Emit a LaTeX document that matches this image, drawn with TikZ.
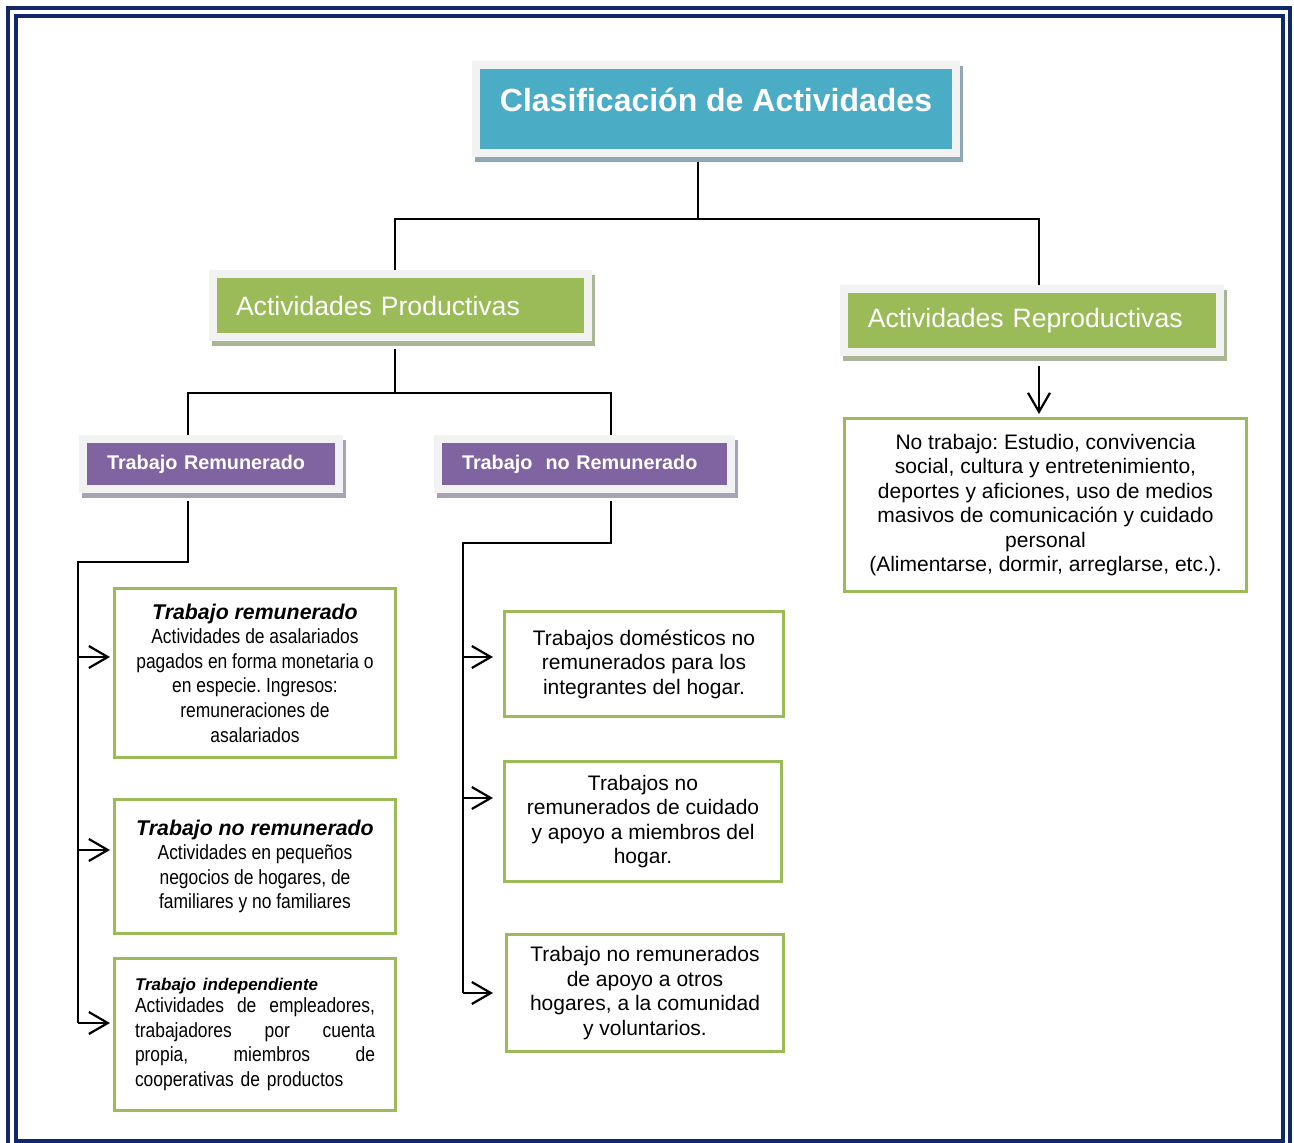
\documentclass[tikz,border=0pt]{standalone}
\usepackage{xcolor}
\usepackage{fontspec}
\setmainfont{Liberation Sans}
\newfontfamily\narrowfont[FakeStretch=0.85]{Liberation Sans}
\usetikzlibrary{arrows.meta,shadows}
\definecolor{navyline}{RGB}{16,40,106}
\definecolor{framegray}{HTML}{F2F2F2}
\definecolor{aquabox}{HTML}{4BACC6}
\definecolor{aquashade}{HTML}{8EA9B5}
\definecolor{greenbox}{HTML}{9BBB59}
\definecolor{greenshade}{HTML}{A9B796}
\definecolor{purplebox}{HTML}{8064A2}
\definecolor{purpleshade}{HTML}{A7A3B5}

\begin{document}
\frenchspacing
\begin{tikzpicture}[x=1pt,y=-1pt,
  framebox/.style={draw=framegray,line width=8pt,inner sep=0pt,text=white},
  boxshadow/.style={drop shadow={shadow xshift=3pt,shadow yshift=-4.5pt,opacity=1,fill=#1,draw=#1,line width=8pt}},
  greenhead/.style={framebox,boxshadow=greenshade,fill=greenbox,text width=328.5pt,inner xsep=23.5pt,
    minimum height=63pt,align=left,font=\fontsize{26.6}{32}\selectfont},
  purplehead/.style={framebox,boxshadow=purpleshade,fill=purplebox,inner xsep=24pt,
    minimum height=50pt,align=left,font=\fontsize{19.8}{24}\selectfont\bfseries},
  itembox/.style={draw=greenbox,line width=3pt,fill=white,inner sep=0pt,align=center,
    font=\fontsize{21}{24.5}\selectfont},
  narrowbox/.style={itembox,font=\narrowfont\fontsize{20.5}{24.6}\selectfont},
  conn/.style={line width=2pt},
  arr/.style={line width=2.2pt,-{Straight Barb[length=19pt,width=22pt]}}]
\useasboundingbox (0,0) rectangle (1294,1143);
\draw[navyline,line width=4pt] (8,8) rectangle (1289.5,1148);
\draw[navyline,line width=4pt] (15.5,16) rectangle (1282.5,1140.5);

\node[framebox,boxshadow=aquashade,fill=aquabox,minimum width=480pt,minimum height=88pt,
  text height=23pt,text depth=19pt,font=\fontsize{32}{38}\selectfont\bfseries]
  (title) at (716,109) {Clasificación de Actividades};
\node[greenhead] (prod) at (400.25,305.5) {Actividades Productivas};
\node[greenhead] (repr) at (1032,320.5) {Actividades Reproductivas};
\node[purplehead,text width=208pt] (trem) at (211,464) {Trabajo Remunerado};
\node[purplehead,text width=245pt] (tnrem) at (584.5,464) {Trabajo\ \ no Remunerado};

\node[narrowbox,minimum width=281pt,minimum height=169pt] (rem) at (255,673)
  {{\rmfamily\fontsize{21.3}{25}\selectfont\bfseries\itshape Trabajo remunerado}\\
  Actividades de asalariados\\ pagados en forma monetaria o\\
  en especie. Ingresos:\\ remuneraciones de\\ asalariados};
\node[narrowbox,minimum width=281pt,minimum height=134pt] (norem) at (255,866.5)
  {{\rmfamily\fontsize{21.3}{25}\selectfont\bfseries\itshape Trabajo no remunerado}\\
  Actividades en pequeños\\ negocios de hogares, de\\ familiares y no familiares};
\node[narrowbox,align=left,text width=240pt,minimum width=281pt,minimum height=152pt] (ind) at (255,1034.5)
  {{\rmfamily\fontsize{17}{20}\selectfont\bfseries\itshape Trabajo independiente}\\[-2.6pt]
  Actividades\hfill de\hfill empleadores,\\
  trabajadores\hfill por\hfill cuenta\\
  propia,\hfill miembros\hfill de\\
  cooperativas de productos};

\node[itembox,minimum width=279pt,minimum height=105pt] (dom) at (644,664)
  {Trabajos domésticos no\\ remunerados para los\\ integrantes del hogar.};
\node[itembox,minimum width=277pt,minimum height=120pt] (cui) at (643,821.5)
  {Trabajos no\\ remunerados de cuidado\\ y apoyo a miembros del\\ hogar.};
\node[itembox,minimum width=277pt,minimum height=117pt] (apo) at (645,993)
  {Trabajo no remunerados\\ de apoyo a otros\\ hogares, a la comunidad\\ y voluntarios.};
\node[itembox,minimum width=402pt,minimum height=173pt] (notr) at (1045.5,505)
  {No trabajo: Estudio, convivencia\\ social, cultura y entretenimiento,\\
  deportes y aficiones, uso de medios\\ masivos de comunicación y cuidado\\
  personal\\ (Alimentarse, dormir, arreglarse, etc.).};

\coordinate (t0) at (698,219);
\coordinate (t1) at (395,219);
\coordinate (t2) at (1039,219);
\draw[conn,shorten <=4.5pt] (title.south -| t0) -- (t0);
\draw[conn] (prod.north -| t1) |- (t2) -- (repr.north -| t2);
\draw[arr,shorten <=10pt,shorten >=3pt] (repr.south -| t2) -- (notr.north -| t2);

\coordinate (p0) at (395,393);
\coordinate (p1) at (188,393);
\coordinate (p2) at (611,393);
\draw[conn,shorten <=8pt] (prod.south -| p0) -- (p0);
\draw[conn] (trem.north -| p1) |- (p2) -- (tnrem.north -| p2);

\coordinate (r0) at (188,562);
\coordinate (r1) at (78,562);
\draw[conn,shorten <=8pt] (trem.south -| r0) -- (r0) -- (r1) -- ([yshift=11.5pt]ind.west -| r1);
\draw[arr,shorten >=3pt] ([yshift=16pt]rem.west -| r1) -- ([yshift=16pt]rem.west);
\draw[arr,shorten >=3pt] ([yshift=16.5pt]norem.west -| r1) -- ([yshift=16.5pt]norem.west);
\draw[arr,shorten >=3pt] ([yshift=11.5pt]ind.west -| r1) -- ([yshift=11.5pt]ind.west);

\coordinate (n0) at (611,543);
\coordinate (n1) at (463,543);
\draw[conn,shorten <=8pt] (tnrem.south -| n0) -- (n0) -- (n1) -- (apo.west -| n1);
\draw[arr,shorten >=10pt] ([yshift=7pt]dom.west -| n1) -- ([yshift=7pt]dom.west);
\draw[arr,shorten >=10pt] ([yshift=23.5pt]cui.west -| n1) -- ([yshift=23.5pt]cui.west);
\draw[arr,shorten >=12pt] (apo.west -| n1) -- (apo.west);
\end{tikzpicture}
\end{document}
